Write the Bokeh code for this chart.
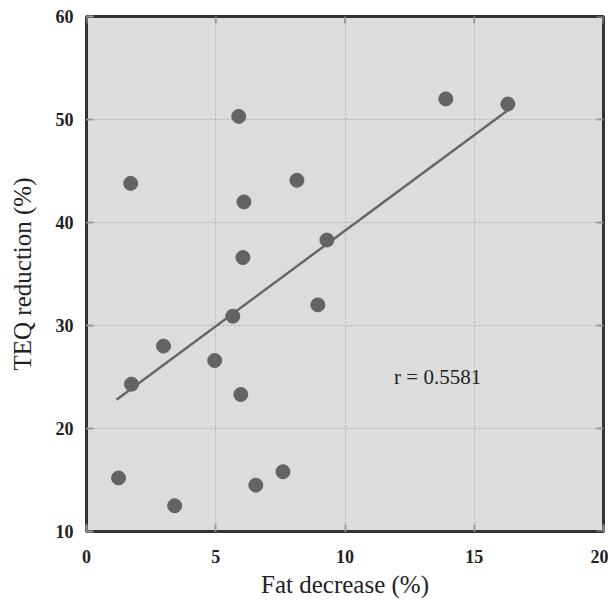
from bokeh.plotting import figure
from bokeh.models import FixedTicker, Range1d, ColumnDataSource
from bokeh.core.properties import value
from bokeh.embed import file_html
from bokeh.resources import INLINE

# Data
fat_decrease = [1.24, 3.41, 6.55, 7.60, 1.74, 2.98, 4.96, 5.66, 5.97, 6.05, 8.95,
                1.71, 5.89, 8.14, 6.09, 9.30, 13.9, 16.3]
teq_reduction = [15.2, 12.5, 14.5, 15.8, 24.3, 28.0, 26.6, 30.9, 23.3, 36.6, 32.0,
                 43.8, 50.3, 44.1, 42.0, 38.3, 52.0, 51.5]
fit_x = [1.16, 16.3]
fit_y = [22.8, 50.9]
x_ticks = [0, 5, 10, 15, 20]
y_ticks = [10, 20, 30, 40, 50, 60]
annotation = "r = 0.5581"

SERIF = "Liberation Serif"
X0, X1, Y0, Y1 = 0, 20, 10, 60
W, H = 608, 603
BL, BR, BT, BB = 86, 5, 16, 72
TICK_PX = 7

p = figure(width=W, height=H, output_backend="svg", toolbar_location=None,
           x_range=Range1d(X0, X1), y_range=Range1d(Y0, Y1),
           min_border_left=BL, min_border_right=BR, min_border_top=BT, min_border_bottom=BB)

p.background_fill_color = "#dcdcdc"
p.border_fill_color = "white"
p.outline_line_color = "#333333"
p.outline_line_width = 3

for ax in (p.xaxis[0], p.yaxis[0]):
    ax.axis_line_color = None
    ax.major_tick_in = TICK_PX
    ax.major_tick_out = 0
    ax.major_tick_line_color = "#999999"
    ax.major_tick_line_width = 2
    ax.minor_tick_line_color = None
    ax.major_label_text_font = SERIF
    ax.major_label_text_font_style = "bold"
    ax.major_label_text_font_size = "18px"
    ax.major_label_text_color = "#222222"
    ax.axis_label_text_font = SERIF
    ax.axis_label_text_font_style = "normal"
    ax.axis_label_text_font_size = "25px"
    ax.axis_label_text_color = "#222222"

p.xaxis[0].ticker = FixedTicker(ticks=x_ticks)
p.yaxis[0].ticker = FixedTicker(ticks=y_ticks)
p.xaxis[0].axis_label = "Fat decrease (%)"
p.yaxis[0].axis_label = "TEQ reduction (%)"
p.xaxis[0].major_label_standoff = 18
p.xaxis[0].axis_label_standoff = 5
p.yaxis[0].major_label_standoff = 13
p.yaxis[0].axis_label_standoff = 17

p.xgrid.ticker = FixedTicker(ticks=x_ticks[1:-1])
p.ygrid.ticker = FixedTicker(ticks=y_ticks[1:-1])
for g in (p.xgrid[0], p.ygrid[0]):
    g.grid_line_color = "#b0b0b0"
    g.grid_line_dash = "2 2"
    g.grid_line_width = 1

# inward tick marks on the right and top edges of the frame
fw = W - BL - BR
fh = H - BT - BB
dx = (X1 - X0) * TICK_PX / fw
dy = (Y1 - Y0) * TICK_PX / fh
p.segment(x0=[X1] * len(y_ticks), y0=y_ticks, x1=[X1 - dx] * len(y_ticks), y1=y_ticks,
          line_color="#999999", line_width=2)
p.segment(x0=x_ticks, y0=[Y1] * len(x_ticks), x1=x_ticks, y1=[Y1 - dy] * len(x_ticks),
          line_color="#999999", line_width=2)

p.line(fit_x, fit_y, line_color="#666666", line_width=2.5)
src = ColumnDataSource(dict(x=fat_decrease, y=teq_reduction))
p.scatter("x", "y", source=src, size=14, fill_color="#636363", line_color="#636363")

p.text(x=[11.9], y=[25.0], text=[annotation], text_font=value(SERIF),
       text_font_size="21px", text_color="#222222",
       text_align="left", text_baseline="middle")

open("out.html", "w").write(file_html(p, INLINE))
